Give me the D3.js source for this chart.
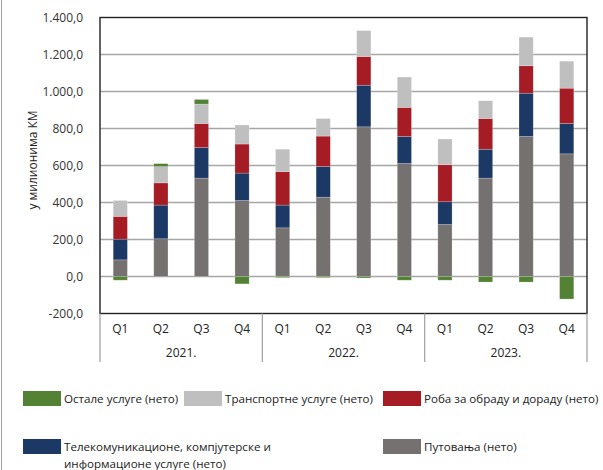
<!DOCTYPE html>
<html>
<head>
<meta charset="utf-8">
<script src="https://cdn.jsdelivr.net/npm/d3@7"></script>
<style>
  body { margin: 0; background: #fff; }
  svg { display: block; font-family: "Open Sans", sans-serif; }
</style>
</head>
<body>
<svg id="chart" width="603" height="470"></svg>
<script>
// quarters and years
var quarters = ["Q1", "Q2", "Q3", "Q4", "Q1", "Q2", "Q3", "Q4", "Q1", "Q2", "Q3", "Q4"];
var years = ["2021.", "2022.", "2023."];

// values in million KM
var travel    = [90, 204, 532, 411, 263, 429, 809, 611, 281, 532, 757, 663];
var telecom   = [112, 182, 165, 148, 123, 166, 225, 146, 123, 156, 234, 164];
var goods     = [123, 120, 130, 157, 181, 164, 155, 157, 200, 166, 148, 191];
var transport = [86, 88, 105, 103, 121, 95, 140, 164, 139, 96, 155, 146];
var other     = [-20, 16, 25, -40, -6, -6, -8, -20, -20, -30, -30, -122];

var yTicks = [-200, 0, 200, 400, 600, 800, 1000, 1200, 1400];

var series = [
  { key: "travel", name: "Путовања (нето)", values: travel, color: "#767171" },
  { key: "telecom", name: "Телекомуникационе, компјутерске и информационе услуге (нето)", values: telecom, color: "#1c3864" },
  { key: "goods", name: "Роба за обраду и дораду (нето)", values: goods, color: "#a51c24" },
  { key: "transport", name: "Транспортне услуге (нето)", values: transport, color: "#bfbfbf" },
  { key: "other", name: "Остале услуге (нето)", values: other, color: "#548235" }
];

var svg = d3.select("#chart");
var plotLeft = 100, plotRight = 587, plotTop = 17.5, plotBottom = 313.5;

var rows = quarters.map(function (q, i) {
  var r = { i: i };
  series.forEach(function (s) { r[s.key] = s.values[i]; });
  return r;
});

var stacked = d3.stack()
  .keys(series.map(function (s) { return s.key; }))
  .offset(d3.stackOffsetDiverging)(rows);

var x = d3.scaleBand()
  .domain(d3.range(quarters.length))
  .range([plotLeft, plotRight])
  .paddingInner(0.65)
  .paddingOuter(0.325);

var y = d3.scaleLinear().domain([-200, 1400]).range([plotBottom, plotTop]);

// outer frame line on the left
svg.append("line")
  .attr("x1", 1.5).attr("x2", 1.5).attr("y1", 0).attr("y2", 470)
  .attr("stroke", "#a0a0a0").attr("stroke-width", 1);

// gridlines
svg.append("g")
  .selectAll("line")
  .data(yTicks.filter(function (t) { return t > -200 && t < 1400; }))
  .join("line")
  .attr("x1", plotLeft).attr("x2", plotRight)
  .attr("y1", function (d) { return y(d); })
  .attr("y2", function (d) { return y(d); })
  .attr("stroke", "#a6a6a6")
  .attr("stroke-width", 1.3);

// y axis labels
var fmt = function (v) {
  var s = d3.format(",.1f")(v);
  return s.replace(/,/g, "#").replace(".", ",").replace(/#/g, ".").replace("−", "-");
};
var yAxis = d3.axisLeft(y).tickValues(yTicks).tickSize(0).tickPadding(17).tickFormat(fmt);
svg.append("g")
  .attr("transform", "translate(" + plotLeft + ",0)")
  .call(yAxis)
  .call(function (g) {
    g.select(".domain").remove();
    g.selectAll("text")
      .attr("font-family", "Open Sans")
      .attr("font-size", 12)
      .attr("fill", "#333");
  });

svg.append("text")
  .attr("transform", "translate(37,160) rotate(-90)")
  .attr("text-anchor", "middle")
  .attr("font-size", 12)
  .attr("fill", "#222")
  .text("у милионима КМ");

// bars
svg.append("g")
  .selectAll("g")
  .data(stacked)
  .join("g")
  .attr("fill", function (d, i) { return series[i].color; })
  .selectAll("rect")
  .data(function (d) { return d; })
  .join("rect")
  .attr("x", function (d) { return x(d.data.i); })
  .attr("width", x.bandwidth())
  .attr("y", function (d) { return y(Math.max(d[0], d[1])); })
  .attr("height", function (d) { return Math.abs(y(d[0]) - y(d[1])); })
  .attr("stroke", "#fff")
  .attr("stroke-opacity", 0.35)
  .attr("stroke-width", 0.6);

// plot border
svg.append("rect")
  .attr("x", plotLeft).attr("y", plotTop)
  .attr("width", plotRight - plotLeft).attr("height", plotBottom - plotTop)
  .attr("fill", "none")
  .attr("stroke", "#222")
  .attr("stroke-width", 1.4);

// category axis: quarters and years
svg.append("g")
  .selectAll("text")
  .data(quarters)
  .join("text")
  .attr("x", function (d, i) { return x(i) + x.bandwidth() / 2; })
  .attr("y", 333)
  .attr("text-anchor", "middle")
  .attr("font-size", 12)
  .attr("fill", "#222")
  .text(function (d) { return d; });

var groupW = (plotRight - plotLeft) / years.length;
svg.append("g")
  .selectAll("text")
  .data(years)
  .join("text")
  .attr("x", function (d, i) { return plotLeft + groupW * (i + 0.5); })
  .attr("y", 357)
  .attr("text-anchor", "middle")
  .attr("font-size", 12)
  .attr("fill", "#222")
  .text(function (d) { return d; });

svg.append("g")
  .selectAll("line")
  .data(d3.range(years.length + 1))
  .join("line")
  .attr("x1", function (d) { return plotLeft + groupW * d; })
  .attr("x2", function (d) { return plotLeft + groupW * d; })
  .attr("y1", plotBottom).attr("y2", 362)
  .attr("stroke", "#a6a6a6").attr("stroke-width", 1.3);

// legend
var legendItems = [
  { s: series[4], x: 23, y: 391, lines: ["Остале услуге (нето)"] },
  { s: series[3], x: 184, y: 391, lines: ["Транспортне услуге (нето)"] },
  { s: series[2], x: 383, y: 391, lines: ["Роба за обраду и дораду (нето)"] },
  { s: series[1], x: 23, y: 439, lines: ["Телекомуникационе, компјутерске и", "информационе услуге (нето)"] },
  { s: series[0], x: 383, y: 439, lines: ["Путовања (нето)"] }
];

var lg = svg.append("g")
  .selectAll("g")
  .data(legendItems)
  .join("g")
  .attr("transform", function (d) { return "translate(" + d.x + "," + d.y + ")"; });

lg.append("rect")
  .attr("width", 38).attr("height", 15)
  .attr("fill", function (d) { return d.s.color; });

lg.append("text")
  .attr("font-size", 11.6)
  .attr("fill", "#222")
  .selectAll("tspan")
  .data(function (d) { return d.lines; })
  .join("tspan")
  .attr("x", 41)
  .attr("y", function (d, i) { return 12 + i * 17; })
  .text(function (d) { return d; });
</script>
</body>
</html>
